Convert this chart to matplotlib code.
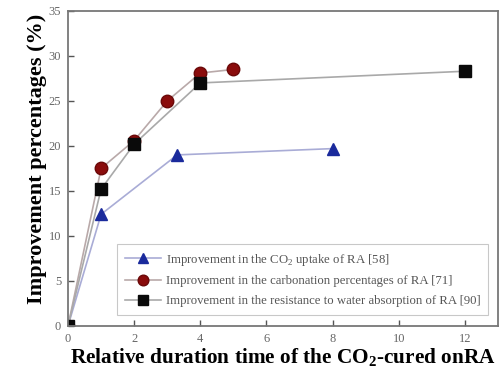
import matplotlib
matplotlib.use("Agg")
import matplotlib.pyplot as plt

# Values
uptake_x = [0, 1, 3.3, 8]
uptake_y = [0, 12.4, 19.0, 19.7]

carb_x = [0, 1, 2, 3, 4, 5]
carb_y = [0, 17.5, 20.6, 25.0, 28.1, 28.5]

water_x = [0, 1, 2, 4, 12]
water_y = [0, 15.2, 20.2, 27.0, 28.3]

labels = [
    "Improvement in the CO$_2$ uptake of RA [58]",
    "Improvement in the carbonation percentages of RA [71]",
    "Improvement in the resistance to water absorption of RA [90]",
]

plt.rcParams["font.family"] = "Liberation Serif"
plt.rcParams["mathtext.fontset"] = "custom"
plt.rcParams["mathtext.rm"] = "Liberation Serif"
plt.rcParams["mathtext.bf"] = "Liberation Serif:bold"

fig = plt.figure(figsize=(5.04, 3.78), dpi=100)
ax = fig.add_axes([0.135, 0.138, 0.853, 0.833])

ax.plot(uptake_x, uptake_y, color="#a9acd6", linewidth=1.2, marker="^",
        markersize=9, markerfacecolor="#1a2a9c", markeredgecolor="#1a2a9c",
        label=labels[0])
ax.plot(carb_x, carb_y, color="#b9a9a9", linewidth=1.2, marker="o",
        markersize=9, markerfacecolor="#8a0c0c", markeredgecolor="#6a0808",
        label=labels[1])
ax.plot(water_x, water_y, color="#a9a9a9", linewidth=1.2, marker="s",
        markersize=8, markerfacecolor="#0a0a0a", markeredgecolor="#0a0a0a",
        label=labels[2])

ax.set_xlim(0, 13)
ax.set_ylim(0, 35)
ax.set_xticks(range(0, 13, 2))
ax.set_yticks(range(0, 36, 5))
ax.tick_params(direction="in", length=4, width=1, colors="#555555",
               labelsize=9, labelcolor="#666666", pad=5)
for s in ax.spines.values():
    s.set_color("#777777")
    s.set_linewidth(1.3)

ax.set_xlabel(r"Relative duration time of the CO$_{\mathbf{2}}$-cured onRA",
              fontsize=15.3, fontweight="bold", labelpad=1)
ax.set_ylabel("Improvement percentages (%)", fontsize=16, fontweight="bold")
ax.yaxis.set_label_coords(-0.05, 0.53)

leg = ax.legend(loc="lower left", bbox_to_anchor=(0.115, 0.035), fontsize=9.2,
                frameon=True, fancybox=False, edgecolor="#bbbbbb",
                handlelength=2.8, handletextpad=0.4, labelspacing=0.6,
                borderpad=0.6, borderaxespad=0, markerscale=0.85)
leg.get_frame().set_linewidth(0.8)
for t in leg.get_texts():
    t.set_color("#555555")

fig.savefig("out.png", dpi=100)
